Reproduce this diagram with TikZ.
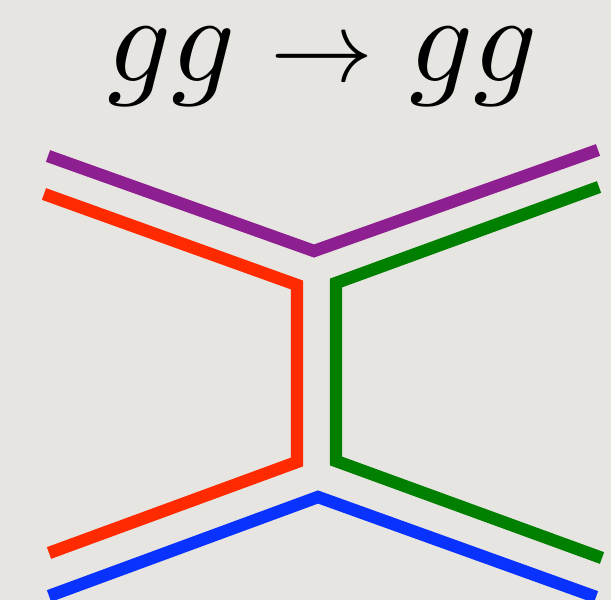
\documentclass[tikz,border=0pt]{standalone}
\usepackage{graphicx}
\usepackage{tikz}
\definecolor{paper}{HTML}{E7E5E1}
\definecolor{gpurple}{HTML}{8E1F91}
\definecolor{gred}{HTML}{FF2A00}
\definecolor{ggreen}{HTML}{007F00}
\definecolor{gblue}{HTML}{0A32FF}

\begin{document}
\begin{tikzpicture}[x=0.03cm, y=-0.03cm, line width=10.6pt, line join=miter,
  big/.style={anchor=base, inner sep=0pt}]
\fill[paper] (0,0) rectangle (611,600);
\useasboundingbox (0,0) rectangle (611,600);
\node[big] (lhs) at (172,82) {\scalebox{10.7}{$gg$}};
\node[big] (arr) at (322,82) {\scalebox{8.8}[8.6]{$\rightarrow$}};
\node[big] (rhs) at (474,82) {\scalebox{10.7}{$gg$}};
% colour lines of the two gluons
\coordinate (pA) at (48,156); \coordinate (pV) at (314,251); \coordinate (pB) at (598,150);
\coordinate (rA) at (44,194); \coordinate (rU) at (297,285); \coordinate (rD) at (297,462); \coordinate (rB) at (49,553);
\coordinate (gA) at (599,187); \coordinate (gU) at (336,283); \coordinate (gD) at (336,461); \coordinate (gB) at (602,558);
\coordinate (bA) at (49,596); \coordinate (bV) at (318,497); \coordinate (bB) at (596,597);
\draw[gpurple] (pA) -- (pV) -- (pB);
\draw[gred] (rA) -- (rU) -- (rD) -- (rB);
\draw[ggreen] (gA) -- (gU) -- (gD) -- (gB);
\draw[gblue] (bA) -- (bV) -- (bB);
\end{tikzpicture}
\end{document}
